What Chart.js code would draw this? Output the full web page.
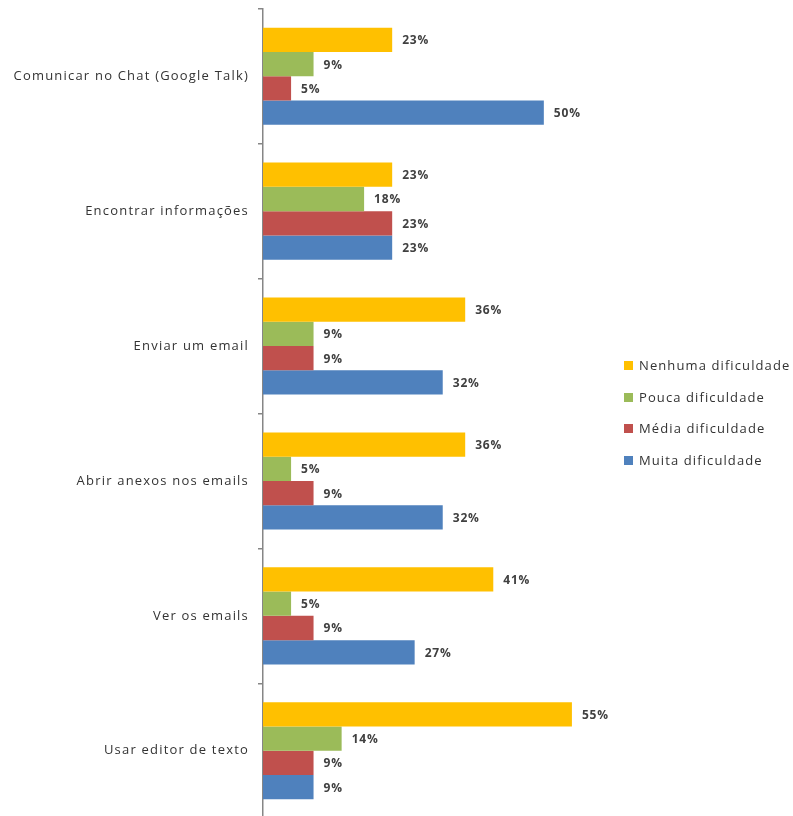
<!DOCTYPE html>
<html lang="pt">
<head>
    <meta charset="utf-8" />
    <title>Dificuldades nas tarefas</title>
    <script src="https://cdn.jsdelivr.net/npm/chart.js@4.4.0/dist/chart.umd.min.js"></script>
    <style>
        html, body { margin: 0; padding: 0; background: #fff; overflow: hidden; }
        #wrap { position: relative; width: 793px; height: 816px; overflow: hidden; }
        #chart { position: absolute; left: 0; top: -8px; }
        #legend { position: absolute; left: 624px; top: 357px; font-family: "Open Sans", sans-serif; font-size: 13px; letter-spacing: 1.1px; color: #333; }
        #legend div { height: 31.5px; line-height: 17px; white-space: nowrap; }
        #legend span { display: inline-block; width: 9px; height: 9px; margin-right: 6px; }
    </style>
    <script>
        //Chart data
        var categories = ['Comunicar no Chat (Google Talk)', 'Encontrar informações', 'Enviar um email', 'Abrir anexos nos emails', 'Ver os emails', 'Usar editor de texto'];
        var seriesNames = ['Nenhuma dificuldade', 'Pouca dificuldade', 'Média dificuldade', 'Muita dificuldade'];
        var nenhuma = [23, 23, 36, 36, 41, 55];
        var pouca = [9, 18, 9, 5, 5, 14];
        var media = [5, 23, 9, 9, 9, 9];
        var muita = [50, 23, 32, 32, 27, 9];
        var colors = ['#FFC000', '#9BBB59', '#C0504D', '#4F81BD'];

        //Slightly spaced lettering, like the original.
        var spacing = {
            id: 'spacing',
            beforeDraw: function (chart) { chart.ctx.letterSpacing = '1.2px'; }
        };

        //Draws the "NN%" text at the end of each bar.
        var valueLabels = {
            id: 'valueLabels',
            afterDatasetsDraw: function (chart) {
                var ctx = chart.ctx;
                ctx.save();
                ctx.letterSpacing = '0.8px';
                ctx.font = 'bold 12px "Open Sans", sans-serif';
                ctx.fillStyle = '#404040';
                ctx.textBaseline = 'middle';
                ctx.textAlign = 'left';
                chart.data.datasets.forEach(function (ds, i) {
                    chart.getDatasetMeta(i).data.forEach(function (bar, j) {
                        ctx.fillText(ds.data[j] + '%', bar.x + 10, bar.y + 1);
                    });
                });
                ctx.restore();
            }
        };

        function init() {
            var series = [nenhuma, pouca, media, muita];
            var datasets = series.map(function (d, i) {
                return { label: seriesNames[i], data: d, backgroundColor: colors[i] };
            });

            new Chart(document.getElementById('chart'), {
                type: 'bar',
                data: { labels: categories, datasets: datasets },
                plugins: [spacing, valueLabels],
                options: {
                    indexAxis: 'y',
                    responsive: false,
                    animation: false,
                    barPercentage: 1,
                    categoryPercentage: 0.72,
                    layout: { padding: { top: 0, bottom: 0, left: 0, right: 193 } },
                    plugins: { legend: { display: false }, tooltip: { enabled: false } },
                    scales: {
                        x: { display: false, min: 0, max: 60 },
                        y: {
                            afterFit: function (scale) { scale.width = 263; },
                            border: { color: '#868686', width: 1.5 },
                            grid: { offset: true, drawOnChartArea: false, tickLength: 5, color: '#868686', lineWidth: 1.5 },
                            ticks: { padding: 9, color: '#333', font: { family: '"Open Sans", sans-serif', size: 13 } }
                        }
                    }
                }
            });

            //HTML legend
            var legend = document.getElementById('legend');
            seriesNames.forEach(function (name, i) {
                var row = document.createElement('div');
                row.innerHTML = '<span style="background:' + colors[i] + '"></span>' + name;
                legend.appendChild(row);
            });
        }
    </script>
</head>
<body onload="init()">
    <div id="wrap">
        <canvas id="chart" width="793" height="843"></canvas>
        <div id="legend"></div>
    </div>
</body>
</html>
